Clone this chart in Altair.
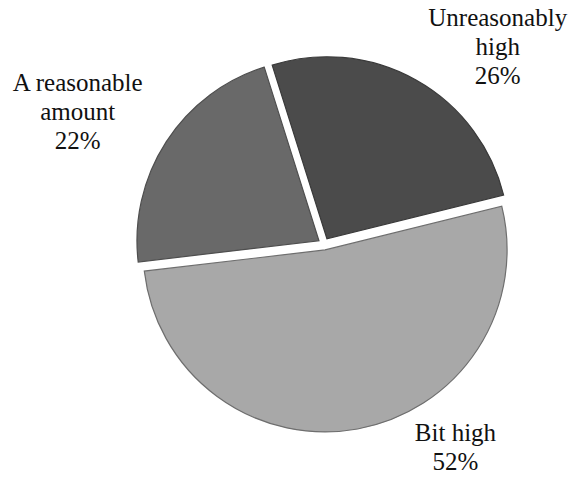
import math
import altair as alt
import pandas as pd

# ---- data ----
categories = ["Unreasonably high", "Bit high", "A reasonable amount"]
shares = [26, 52, 22]
label_lines = ["Unreasonably\nhigh", "Bit high", "A reasonable\namount"]

# ---- styling ----
fills = ["#4b4b4b", "#a8a8a8", "#696969"]
strokes = ["#3a3a3a", "#6e6e6e", "#4e4e4e"]
# (label radius, dx, dy) per slice
label_style = [(263, 45, 3), (243, 88, -50), (279, -12, -9)]

START_DEG = -17.5
start_rad = math.radians(START_DEG)
CX, CY, R, EXPLODE = 324, 244, 182, 6

df = pd.DataFrame({
    "order": list(range(len(categories))),
    "category": categories,
    "share": shares,
    "label": label_lines,
})

theta_scale = alt.Scale(domain=[0, 100], range=[start_rad, start_rad + 2 * math.pi])

base = (
    alt.Chart(df)
    .transform_window(cum="sum(share)", sort=[alt.SortField("order")], frame=[None, 0])
    .transform_calculate(
        start="datum.cum - datum.share",
        mid="datum.cum - datum.share / 2",
        text="datum.label + '\\n' + datum.share + '%'",
    )
)

layers = []
cum = 0
for i, cat in enumerate(categories):
    mid_frac = (cum + shares[i] / 2) / 100.0
    cum += shares[i]
    ang = start_rad + 2 * math.pi * mid_frac
    ox = EXPLODE * math.sin(ang)
    oy = -EXPLODE * math.cos(ang)
    sub = base.transform_filter(alt.datum.category == cat)
    arc = sub.mark_arc(
        fill=fills[i], stroke=strokes[i], strokeWidth=1.2,
        xOffset=ox, yOffset=oy,
    ).encode(
        theta=alt.Theta("start:Q", scale=theta_scale),
        theta2="cum:Q",
        radius=alt.value(R),
        x=alt.value(CX),
        y=alt.value(CY),
    )
    lr, dx, dy = label_style[i]
    txt = sub.mark_text(
        font="Liberation Serif", fontSize=25, color="#111111",
        lineBreak="\n", lineHeight=29, align="center", baseline="middle",
        dx=dx, dy=dy,
    ).encode(
        theta=alt.Theta("mid:Q", scale=theta_scale),
        radius=alt.value(lr),
        x=alt.value(CX),
        y=alt.value(CY),
        text="text:N",
    )
    layers += [arc, txt]

chart = (
    alt.layer(*layers)
    .properties(width=578, height=477, padding=0,
                autosize=alt.AutoSizeParams(type="none"))
    .configure_view(stroke=None)
)

chart.save("out.html", embed_options={"renderer": "svg", "actions": False})
